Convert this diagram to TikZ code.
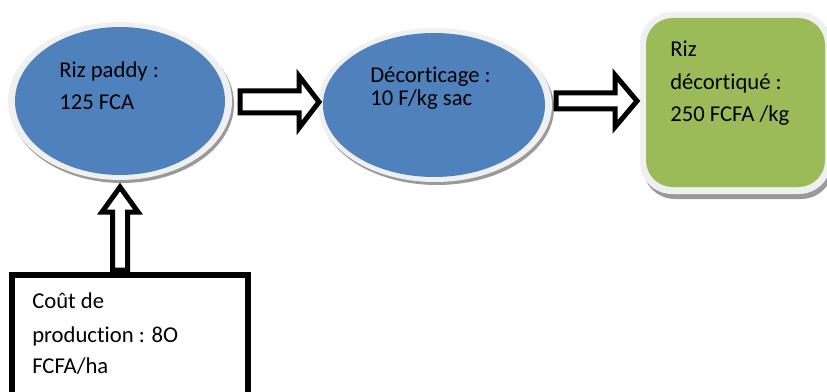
\documentclass[tikz,border=0pt]{standalone}
\usepackage{fontspec}
\setmainfont{Carlito}[Ligatures={NoCommon}]
\definecolor{eblue}{HTML}{4F81BD}
\definecolor{egreen}{HTML}{9BBB59}
\definecolor{rim}{HTML}{F0F0F0}
\definecolor{shad}{HTML}{9A9A9A}
\begin{document}
\begin{tikzpicture}[x=0.75pt,y=-0.75pt,
  txt/.style={anchor=base west, inner sep=0pt, font=\fontsize{17}{20}\selectfont},
  barrow/.style={draw=black, line width=3.75pt, fill=white, line join=miter},
  boxline/.style={draw=black, line width=4.5pt}]
\useasboundingbox (0,0) rectangle (827,392);
% ellipse 1
\fill[shad] (122,104) ellipse [x radius=112, y radius=79];
\fill[rim] (120,101) ellipse [x radius=112, y radius=79];
\fill[eblue] (120,101) ellipse [x radius=105, y radius=74];
\coordinate (e1) at (120,101);
% ellipse 2
\fill[shad] (437,108) ellipse [x radius=117, y radius=77];
\fill[rim] (435,105) ellipse [x radius=117, y radius=77];
\fill[eblue] (434,105) ellipse [x radius=111, y radius=72];
\coordinate (e2) at (434,105);
% green box
\fill[shad, rounded corners=24] (643,15) rectangle (833,199);
\fill[rim, rounded corners=24] (640,12) rectangle (831,194);
\fill[egreen, rounded corners=20] (646,18) rectangle (825,187);
% arrows
\draw[barrow] (240,91) -- (299,91) -- (299,76) -- (319,102) -- (299,128) -- (299,113) -- (240,113) -- cycle;
\draw[barrow] (556,93) -- (615,93) -- (615,75) -- (637,101) -- (615,127) -- (615,109) -- (556,109) -- cycle;
\draw[barrow] (112.5,270) -- (112.5,212) -- (102,212) -- (120,187) -- (138,212) -- (127.5,212) -- (127.5,270) -- cycle;
% bottom box
\draw[boxline] (11.5,400) -- (11.5,275) -- (247.5,275) -- (247.5,400);
% texts
\node[txt] (a1) at (59,78) {Riz paddy :};
\node[txt] (a2) at (59,110) {125 FCA};
\node[txt] (b1) at (370,83) {Décorticage :};
\node[txt] (b2) at (370,106) {10 F/kg sac};
\node[txt] (c1) at (670,57) {Riz};
\node[txt] (c2) at (670,90) {décortiqué :};
\node[txt] (c3) at (670,122) {250 FCFA /kg};
\node[txt] (d1) at (32,308) {Coût de};
\node[txt] (d2) at (32,342) {production : 8O};
\node[txt] (d3) at (32,373) {FCFA/ha};
\end{tikzpicture}
\end{document}
